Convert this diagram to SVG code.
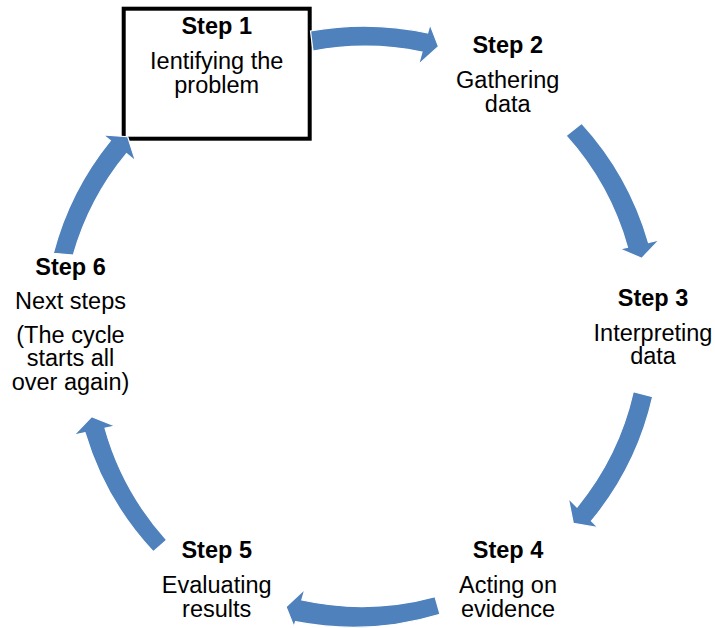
<svg xmlns="http://www.w3.org/2000/svg" width="715" height="628" viewBox="0 0 715 628">
<style>
  .arrow { fill: #4F81BD; stroke: #FFFFFF; stroke-width: 1.2; stroke-linejoin: miter; }
  .t { font-family: "Liberation Sans", Arial, sans-serif; font-size: 23.5px; fill: #000000; text-anchor: middle; }
  .b { font-weight: bold; }
</style>
<rect x="0" y="0" width="715" height="628" fill="#FFFFFF"/>
<g id="node1">
  <rect x="123.7" y="8.7" width="186" height="130" fill="#FFFFFF" stroke="#000000" stroke-width="4"/>
  <text class="t b" x="216.7" y="34">Step 1</text>
  <text class="t" x="216.7" y="69">Ientifying the</text>
  <text class="t" x="216.7" y="92.5">problem</text>
</g>
<g id="node2">
  <text class="t b" x="507.7" y="52.5">Step 2</text>
  <text class="t" x="507.7" y="88">Gathering</text>
  <text class="t" x="507.7" y="111.5">data</text>
</g>
<g id="node3">
  <text class="t b" x="653" y="305.5">Step 3</text>
  <text class="t" x="653" y="340.5">Interpreting</text>
  <text class="t" x="653" y="364">data</text>
</g>
<g id="node4">
  <text class="t b" x="508" y="558">Step 4</text>
  <text class="t" x="508" y="593">Acting on</text>
  <text class="t" x="508" y="616.5">evidence</text>
</g>
<g id="node5">
  <text class="t b" x="216.7" y="558">Step 5</text>
  <text class="t" x="216.7" y="593">Evaluating</text>
  <text class="t" x="216.7" y="616.5">results</text>
</g>
<g id="node6">
  <text class="t b" x="70.5" y="275">Step 6</text>
  <text class="t" x="70.5" y="308.5">Next steps</text>
  <text class="t" x="70.5" y="342.5">(The cycle</text>
  <text class="t" x="70.5" y="366">starts all</text>
  <text class="t" x="70.5" y="389.5">over again)</text>
</g>
<g id="connectors">
  <path class="arrow" d="M 310.5 31 A 299 299 0 0 1 427.6 33 L 430 24.5 L 438.5 46.5 L 418.5 64.5 L 422 52 A 279 279 0 0 0 313 51 Z"/>
  <path class="arrow" d="M 581.7 123.3 A 299 299 0 0 1 648.5 242.5 L 659.3 240 L 641.7 258.3 L 620 249 L 627.5 247.3 A 279 279 0 0 0 566 135.7 Z"/>
  <path class="arrow" d="M 652.7 396.7 A 299 299 0 0 1 591.5 521 L 598.3 527.7 L 573.3 523.3 L 568.3 498.3 L 577 507 A 279 279 0 0 0 633.3 391.7 Z"/>
  <path class="arrow" d="M 440 614.3 A 299 299 0 0 1 295.5 621.7 L 294 626.7 L 286 606.7 L 305 589 L 301.8 600 A 279 279 0 0 0 435 596.7 Z"/>
  <path class="arrow" d="M 153.3 551.7 A 299 299 0 0 1 85 432.6 L 74 435 L 91.7 416.7 L 115 426 L 105 428.2 A 279 279 0 0 0 166.7 540 Z"/>
  <path class="arrow" d="M 53.3 253.3 A 299 299 0 0 1 110.4 140.7 L 103.3 135 L 127.7 136.7 L 135.5 161 L 126.5 153.7 A 279 279 0 0 0 73.3 255 Z"/>
</g>
</svg>
